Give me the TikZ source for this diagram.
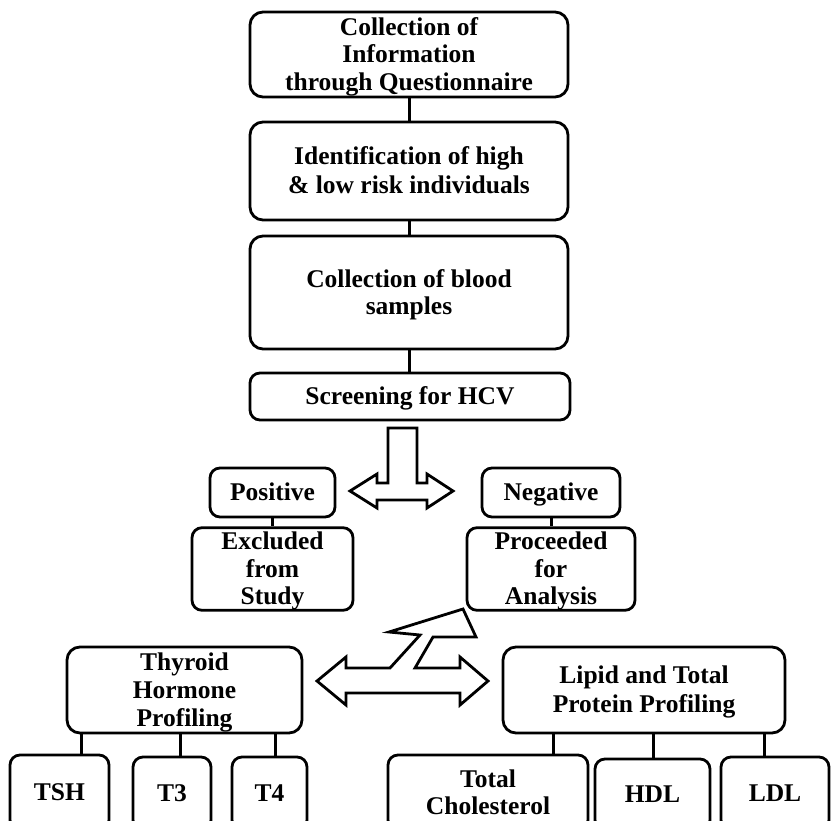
\documentclass[tikz,border=0pt]{standalone}
\usepackage{fontspec}
\setmainfont{Liberation Serif}
\newcommand\tst{\rule[-5.4pt]{0pt}{27.5pt}}
\begin{document}
\begin{tikzpicture}[x=1pt,y=-1pt,
  box/.style={draw=black, line width=2.8pt, rounded corners=13pt, fill=white,
    inner sep=0pt, align=center, font=\fontsize{25.5}{27.5}\selectfont\bfseries},
  sbox/.style={box, rounded corners=10pt},
  link/.style={line width=3pt},
  bigarrow/.style={draw=black, line width=2.8pt, fill=white, line join=miter}]
\useasboundingbox (0,0) rectangle (835,820);
\clip (0,0) rectangle (835,820);
% top chain
\node[box, minimum width=318pt, minimum height=85pt] (q) at (409,54.5)
  {\tst Collection of\\\tst Information\\\tst through Questionnaire};
\node[box, minimum width=318pt, minimum height=98pt] (ident) at (409,171)
  {\tst Identification of high\\\tst \& low risk individuals};
\node[box, minimum width=318pt, minimum height=113pt] (blood) at (409,292.5)
  {\tst Collection of blood\\\tst samples};
\node[sbox, minimum width=320pt, minimum height=47pt] (screen) at (410,396.5)
  {\tst Screening for HCV};
\draw[link] (q.south) -- (q.south |- ident.north);
\draw[link] (ident.south) -- (ident.south |- blood.north);
\draw[link] (blood.south) -- (blood.south |- screen.north);
% T arrow
\draw[bigarrow] (388,428) -- (417,428) -- (417,483) -- (427,483) -- (427,474)
  -- (453,491) -- (427,508) -- (427,500) -- (377,500) -- (377,508) -- (350,491)
  -- (377,474) -- (377,483) -- (388,483) -- cycle;
% positive / negative
\node[sbox, minimum width=125pt, minimum height=49pt] (pos) at (272.5,492.5) {\tst Positive};
\node[sbox, minimum width=161pt, minimum height=82pt] (excl) at (272.5,569) {\tst Excluded\\\tst from\\\tst Study};
\node[sbox, minimum width=138pt, minimum height=49pt] (neg) at (551,492.5) {\tst Negative};
\node[sbox, minimum width=168pt, minimum height=82pt] (proc) at (551,569) {\tst Proceeded\\\tst for\\\tst Analysis};
\draw[link] (pos.south) -- (pos.south |- excl.north);
\draw[link] (neg.south) -- (neg.south |- proc.north);
% zigzag double arrow
\draw[bigarrow] (317,681) -- (346,657) -- (346,668) -- (390,668) -- (420,635)
  -- (389,632) -- (463,609) -- (476,637) -- (433,637) -- (415,668) -- (460,668)
  -- (460,657) -- (488,681) -- (460,705) -- (460,693) -- (346,693) -- (346,705) -- cycle;
% profiling boxes
\node[box, minimum width=235pt, minimum height=86pt] (thy) at (184.5,690)
  {\tst Thyroid\\\tst Hormone\\\tst Profiling};
\node[box, minimum width=282pt, minimum height=86pt] (lip) at (644,690)
  {\tst Lipid and Total\\\tst Protein Profiling};
% bottom row
\node[sbox, minimum width=99pt, minimum height=75pt] (tsh) at (59.5,792.5) {\tst TSH};
\node[sbox, minimum width=78pt, minimum height=73pt] (t3) at (172,793.5) {\tst T3};
\node[sbox, minimum width=75pt, minimum height=73pt] (t4) at (269.5,793.5) {\tst T4};
\node[sbox, minimum width=200pt, minimum height=75pt] (tc) at (488,792.5) {\tst Total\\\tst Cholesterol};
\node[sbox, minimum width=115pt, minimum height=71pt] (hdl) at (652.5,794.5) {\tst HDL};
\node[sbox, minimum width=108pt, minimum height=73pt] (ldl) at (775,793.5) {\tst LDL};
\draw[link] (81,0 |- thy.south) -- (81,0 |- tsh.north);
\draw[link] (180,0 |- thy.south) -- (180,0 |- t3.north);
\draw[link] (275,0 |- thy.south) -- (275,0 |- t4.north);
\draw[link] (553,0 |- lip.south) -- (553,0 |- tc.north);
\draw[link] (653,0 |- lip.south) -- (653,0 |- hdl.north);
\draw[link] (764,0 |- lip.south) -- (764,0 |- ldl.north);
\end{tikzpicture}
\end{document}
